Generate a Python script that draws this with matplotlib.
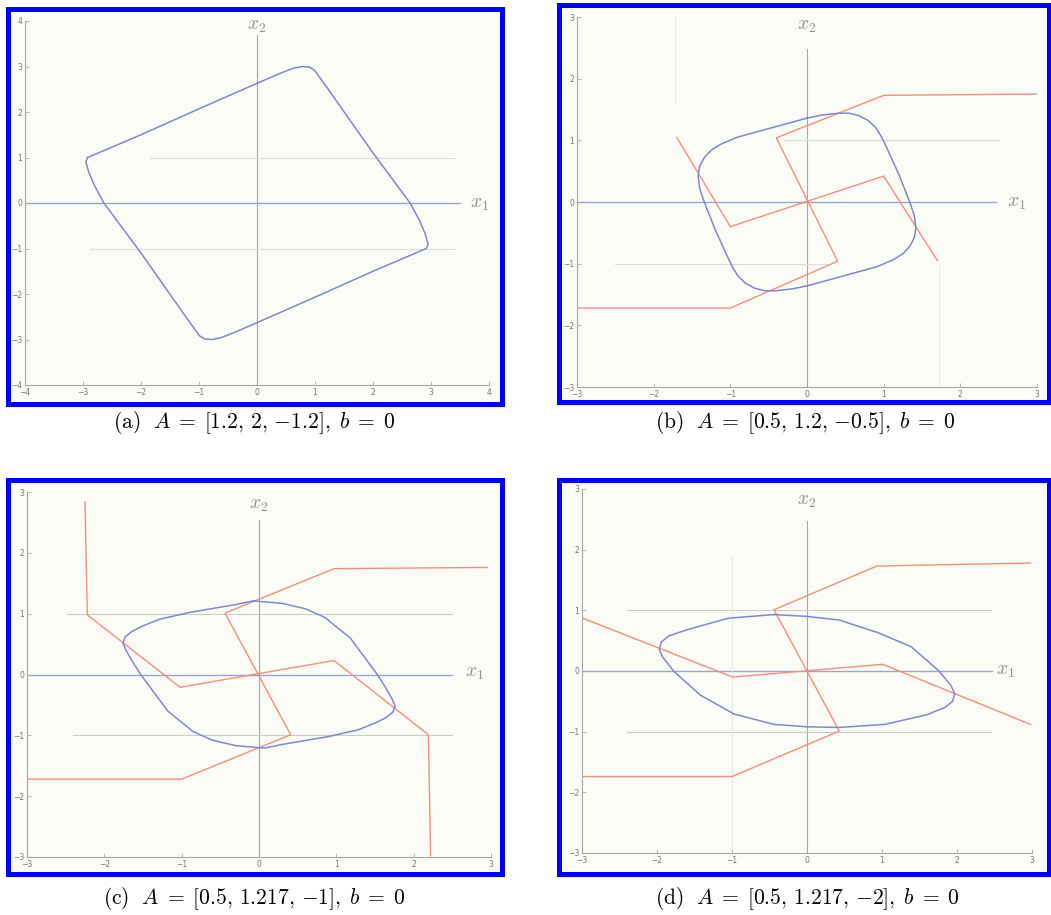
import matplotlib.pyplot as plt
from matplotlib.patches import Rectangle

plt.rcParams['mathtext.fontset'] = 'cm'

W, H = 1051, 915

# (a) A = [1.2, 2, -1.2]
cycle_a_x1 = [-2.92, -2.0, -1.0, 0.0, 0.4, 0.62, 0.78, 0.9, 0.99, 1.2, 2.0, 2.64, 2.8, 2.9, 2.95, 2.92,
              2.0, 1.0, 0.0, -0.4, -0.62, -0.78, -0.9, -0.99, -1.2, -2.0, -2.64, -2.8, -2.9, -2.95, -2.92]
cycle_a_x2 = [1.0, 1.5, 2.07, 2.63, 2.85, 2.96, 3.0, 2.99, 2.92, 2.55, 1.1, 0.0, -0.38, -0.68, -0.9, -1.0,
              -1.5, -2.07, -2.63, -2.85, -2.96, -3.0, -2.99, -2.92, -2.55, -1.1, 0.0, 0.38, 0.68, 0.9, 1.0]

# (b) A = [0.5, 1.2, -0.5]
cycle_b_x1 = [0.0, 0.2, 0.41, 0.55, 0.68, 0.8, 0.9, 0.97, 1.04, 1.2, 1.34, 1.4, 1.42, 1.4, 1.34, 1.25, 1.12, 0.91, 0.5,
              0.0, -0.2, -0.41, -0.55, -0.68, -0.8, -0.9, -0.97, -1.04, -1.2, -1.34, -1.4, -1.42, -1.4, -1.34,
              -1.25, -1.12, -0.91, -0.5, 0.0]
cycle_b_x2 = [1.36, 1.41, 1.44, 1.44, 1.4, 1.32, 1.2, 1.06, 0.88, 0.44, 0.0, -0.22, -0.42, -0.58, -0.72, -0.84, -0.94, -1.05, -1.19,
              -1.36, -1.41, -1.44, -1.44, -1.4, -1.32, -1.2, -1.06, -0.88, -0.44, 0.0, 0.22, 0.42, 0.58, 0.72,
              0.84, 0.94, 1.05, 1.19, 1.36]
zline_b_x1 = [-3.0, -1.0, 0.4, -0.4, 1.0, 3.0]
zline_b_x2 = [-1.72, -1.72, -0.96, 1.04, 1.73, 1.75]
sline_b_x1 = [-1.7, -1.0, 1.0, 1.7]
sline_b_x2 = [1.05, -0.4, 0.42, -0.95]

# (c) A = [0.5, 1.217, -1]
cycle_c_x1 = [-0.07, 0.3, 0.6, 0.85, 1.18, 1.53, 1.64, 1.72, 1.76, 1.73, 1.64, 1.5, 1.28, 0.9, 0.3, 0.07,
              -0.3, -0.6, -0.85, -1.18, -1.53, -1.64, -1.72, -1.76, -1.73, -1.64, -1.5, -1.28, -0.9, -0.3, -0.07]
cycle_c_x2 = [1.21, 1.17, 1.08, 0.94, 0.6, 0.0, -0.22, -0.4, -0.52, -0.62, -0.71, -0.8, -0.91, -1.02, -1.15, -1.21,
              -1.17, -1.08, -0.94, -0.6, 0.0, 0.22, 0.4, 0.52, 0.62, 0.71, 0.8, 0.91, 1.02, 1.15, 1.21]
zline_c_x1 = [-3.0, -1.0, 0.41, -0.44, 0.97, 2.95]
zline_c_x2 = [-1.72, -1.72, -0.99, 1.01, 1.74, 1.76]
sline_c_x1 = [-2.25, -2.22, -1.02, 0.97, 2.19, 2.22]
sline_c_x2 = [2.84, 0.98, -0.21, 0.23, -0.99, -2.98]

# (d) A = [0.5, 1.217, -2]
cycle_d_x1 = [-0.44, 0.0, 0.43, 0.95, 1.39, 1.76, 1.92, 1.97, 1.94, 1.84, 1.6, 1.04, 0.43, 0.0,
              -0.44, -0.97, -1.42, -1.78, -1.93, -1.97, -1.94, -1.84, -1.6, -1.05, -0.44]
cycle_d_x2 = [0.93, 0.9, 0.84, 0.63, 0.4, 0.0, -0.24, -0.38, -0.5, -0.6, -0.72, -0.88, -0.93, -0.92,
              -0.88, -0.71, -0.4, 0.0, 0.24, 0.36, 0.48, 0.58, 0.68, 0.87, 0.93]
zline_d_x1 = [-3.0, -1.0, 0.43, -0.44, 0.93, 2.98]
zline_d_x2 = [-1.74, -1.74, -0.99, 1.01, 1.73, 1.78]
sline_d_x1 = [-2.99, -0.99, 1.01, 2.98]
sline_d_x2 = [0.87, -0.10, 0.11, -0.88]

captions = [r'$\mathrm{(a)}\ \ A \;=\; [1.2,\, 2,\, {-1.2}],\; b \;=\; 0$',
            r'$\mathrm{(b)}\ \ A \;=\; [0.5,\, 1.2,\, {-0.5}],\; b \;=\; 0$',
            r'$\mathrm{(c)}\ \ A \;=\; [0.5,\, 1.217,\, {-1}],\; b \;=\; 0$',
            r'$\mathrm{(d)}\ \ A \;=\; [0.5,\, 1.217,\, {-2}],\; b \;=\; 0$']

BLUE = '#8088cc'
RED = '#ef8f80'
AXC = '#9aa4d0'
GRID = '#dcdcdc'

fig = plt.figure(figsize=(W / 100, H / 100), dpi=100)


def frame(x0, y0, x1, y1):
    r = Rectangle((x0 / W, 1 - y1 / H), (x1 - x0) / W, (y1 - y0) / H,
                  transform=fig.transFigure, facecolor='#fcfcf6',
                  edgecolor='#0000ff', linewidth=3.6, zorder=-5)
    fig.patches.append(r)


def panel(x0, y0, x1, y1, lim):
    ax = fig.add_axes([x0 / W, 1 - y1 / H, (x1 - x0) / W, (y1 - y0) / H])
    ax.set_xlim(-lim, lim)
    ax.set_ylim(-lim, lim)
    ax.patch.set_alpha(0)
    for s in ['top', 'right']:
        ax.spines[s].set_visible(False)
    for s in ['left', 'bottom']:
        ax.spines[s].set_color('#a8a8a8')
        ax.spines[s].set_linewidth(0.8)
    ticks = list(range(-lim, lim + 1))
    ax.set_xticks(ticks)
    ax.set_yticks(ticks)
    ax.tick_params(direction='in', length=3, width=0.6, color='#a8a8a8',
                   labelsize=5.5, labelcolor='#777777', pad=2)
    return ax


def coord_axes(ax, lim, x1end, x2end, x1lab, x2lab):
    ax.plot([-lim, x1end], [0, 0], color=AXC, lw=1.0, zorder=1)
    ax.plot([0, 0], [-lim, x2end], color=AXC, lw=0.8, zorder=1)
    ax.text(x1lab[0], x1lab[1], r'$x_1$', color='#909090', fontsize=14,
            ha='center', va='center', clip_on=False)
    ax.text(x2lab[0], x2lab[1], r'$x_2$', color='#909090', fontsize=14,
            ha='center', va='center', clip_on=False)


# panel frames
frame(7.5, 8.5, 501.5, 403.5)
frame(558.5, 5.5, 1048.5, 402.5)
frame(7.5, 479.5, 501.5, 873.5)
frame(558.5, 479.5, 1048.5, 873.5)

# (a)
ax = panel(25, 21, 489, 385, 4)
ax.plot([-1.84, 3.4], [1, 1], color=GRID, lw=0.8)
ax.plot([-2.88, 3.4], [-1, -1], color=GRID, lw=0.8)
coord_axes(ax, 4, 3.5, 3.7, (3.84, 0.0), (0.0, 3.9))
ax.plot(cycle_a_x1, cycle_a_x2, color=BLUE, lw=1.1, zorder=3)

# (b)
ax = panel(577, 17, 1037, 387, 3)
ax.plot([-0.3, 2.5], [1, 1], color=GRID, lw=0.8)
ax.plot([-2.5, 0.3], [-1, -1], color=GRID, lw=0.8)
ax.plot([-1.72, -1.72], [3.0, 1.6], color='#e8e8e8', lw=0.8)
ax.plot([1.72, 1.72], [-1.0, -3.0], color='#e8e8e8', lw=0.8)
coord_axes(ax, 3, 2.47, 2.48, (2.73, 0.0), (0.0, 2.86))
ax.plot(zline_b_x1, zline_b_x2, color=RED, lw=1.0, zorder=2)
ax.plot(sline_b_x1, sline_b_x2, color=RED, lw=1.0, zorder=2)
ax.plot(cycle_b_x1, cycle_b_x2, color=BLUE, lw=1.1, zorder=3)

# (c)
ax = panel(27, 492, 491, 857, 3)
ax.plot([-2.48, 2.5], [1, 1], color='#cccccc', lw=0.8)
ax.plot([-2.4, 2.5], [-1, -1], color='#cccccc', lw=0.8)
coord_axes(ax, 3, 2.5, 2.54, (2.78, 0.03), (0.0, 2.79))
ax.plot(zline_c_x1, zline_c_x2, color=RED, lw=1.0, zorder=2)
ax.plot(sline_c_x1, sline_c_x2, color=RED, lw=1.0, zorder=2)
ax.plot(cycle_c_x1, cycle_c_x2, color=BLUE, lw=1.1, zorder=3)

# (d)
ax = panel(582, 489, 1032, 853, 3)
ax.plot([-2.4, 2.45], [1, 1], color='#cccccc', lw=0.8)
ax.plot([-2.4, 2.45], [-1, -1], color='#cccccc', lw=0.8)
ax.plot([-1, -1], [1.9, -2.9], color='#e8e8e8', lw=0.8)
coord_axes(ax, 3, 2.47, 2.48, (2.65, 0.0), (0.0, 2.81))
ax.plot(zline_d_x1, zline_d_x2, color=RED, lw=1.0, zorder=2)
ax.plot(sline_d_x1, sline_d_x2, color=RED, lw=1.0, zorder=2)
ax.plot(cycle_d_x1, cycle_d_x2, color=BLUE, lw=1.1, zorder=3)

# captions
for (cx, cy), txt in zip([(254, 422), (805, 422), (254, 898), (807, 898)], captions):
    fig.text(cx / W, 1 - cy / H, txt, ha='center', va='center', fontsize=15.5)

fig.savefig('out.png', dpi=100)
